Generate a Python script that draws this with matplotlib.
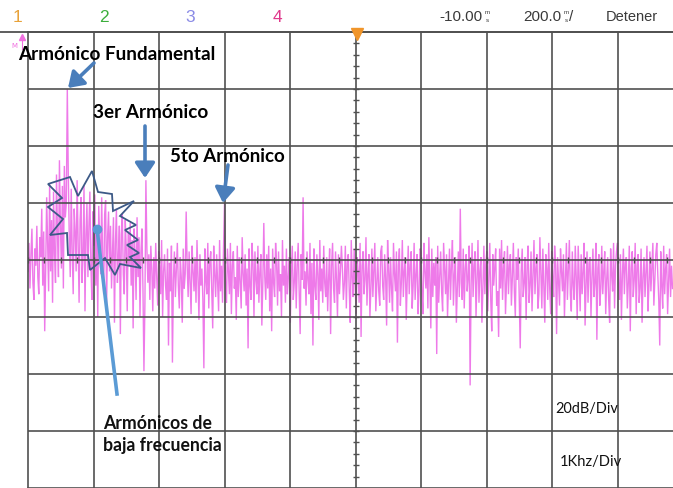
import numpy as np
import matplotlib
matplotlib.use("Agg")
import matplotlib.pyplot as plt
from matplotlib import font_manager
from matplotlib.patches import FancyArrowPatch, Polygon
from matplotlib.lines import Line2D

# ---------------- data ----------------
bin_khz = 0.015  # spacing of spectrum points, kHz
level_db = [
    -4, 6, -10, 2, 11, -8, -14, 4, -2, 12, -6, -12, 8, 1, 18, -9, 10, -25, -3, 22,
    5, -11, 27, -4, 14, -15, 24, 2, -8, 30, 9, -6, 35, 12, -3, 26, -10, 33, 15, 20,
    60, 30, 8, -6, 25, 3, -12, 18, 10, -4, 28, 6, -15, 14, 22, -8, 2, 26, -18, 9,
    20, -6, 12, 24, -2, -14, 17, 5, 23, -9, 11, -20, 19, 7, -5, 22, 0, -12, 16, 21,
    -16, 8, 17, -4, 12, -10, 3, 15, -22, 6, 18, -8, 1, 12, -26, 9, 16, -5, -12, 14,
    4, -18, 10, -2, 13, -9, 7, -24, 11, 2, -14, 15, -6, 8, -20, 3, 11, -10, -39, -15,
    28, 4, -8, 2, -14, 5, -3, -18, 1, -10, 6, -6, -16, 3, -2, -12, 7, -20, -4, 2,
    -9, -14, 4, -30, -1, -11, 5, -36, -7, 3, -13, -4, 6, -9, -17, 1, -6, -22, 4, -10,
    -5, 17, -2, -13, 3, -8, -19, 5, -4, -11, 1, -15, 7, -6, -21, 2, -9, -3, -14, -38,
    4, -7, -12, 6, -17, -1, 3, -10, -24, 5, -5, -13, 2, -8, -18, 7, -11, -2, -15, 4,
    20, -9, -15, 4, -4, -12, 6, -19, -2, 3, -10, -6, -21, 5, -13, 1, -8, -17, 8, -5,
    -11, 2, -16, -3, -31, 4, -9, -14, 6, -1, -20, 3, -7, -12, 5, -15, -4, 2, -23, -8,
    13, -6, -14, 2, -10, 5, -18, -3, -25, 4, -8, -13, 6, -1, -16, 3, -11, -5, -20, 7,
    -9, -2, -15, 4, -12, -6, 1, -22, -4, 5, -14, -8, 3, -17, -2, 6, -11, -26, 2, -7,
    22, -10, -4, -16, 3, -7, -12, 6, -19, -1, -30, 4, -9, -14, 2, -5, -21, 7, -11, -3,
    -15, 5, -8, -13, 1, -18, -6, 4, -26, -2, 6, -10, -15, 3, -7, -20, 2, -12, -4, 5,
    -3, -14, -8, 5, -17, -1, 2, -11, -22, 7, -6, -13, 4, -9, -19, 1, -4, -15, 6, -27,
    -2, 3, -12, -7, 8, -16, -5, 2, -20, -10, 4, -13, -3, 6, -18, -8, 1, -11, -16, 3,
    5, -9, -14, 2, -6, -23, 7, -3, -15, 1, -10, -18, 6, -5, -11, 3, -29, -2, 4, -16,
    -8, 7, -13, -4, 1, -21, -7, 5, -12, -2, 3, -17, -9, 6, -14, -5, 2, -19, -11, 4,
    3, -12, -19, 6, -4, -10, 2, -17, 8, -7, -24, 4, -13, -1, -9, 1, -33, 5, -15, -6,
    3, -11, -18, 6, -3, -12, 2, -20, -8, 4, -14, -2, 7, -16, -5, 1, -22, -9, 3, -13,
    18, -8, -14, 4, -17, -3, 2, -11, -6, 5, -44, -9, 6, -13, -2, 3, -20, -7, 7, -15,
    -4, 1, -22, -10, 5, -12, -1, 3, -18, -6, 6, -14, -25, 2, -9, -3, 4, -16, -11, -27,
    4, -10, 7, -14, -3, 3, -19, -8, 5, -12, -2, 2, -16, -6, 6, -11, -20, 1, -7, 4,
    -13, -31, -4, 4, -13, -8, 1, -21, -2, 5, -15, -9, 3, -18, -5, 7, -12, -3, 2, -17,
    -12, 8, -5, -17, 4, -9, -22, 2, -3, -14, 6, -10, -19, 3, -6, -13, 5, -2, -26, 1,
    -8, -16, 4, -4, -11, 2, -20, -7, 6, -14, -3, 7, -12, -18, 3, -9, -14, 5, -6, -21,
    5, -7, -18, 2, -12, -4, 6, -23, -9, 3, -15, -1, 1, -20, -6, 4, -13, -8, 6, -28,
    -3, 2, -16, -10, 5, -12, -4, 3, -19, -7, 1, -14, -22, 4, -5, -11, 6, -17, -2, 3,
    6, -9, -14, 2, -21, -5, 4, -12, -1, 1, -17, -8, 5, -25, -3, 3, -13, -7, 6, -19,
    -2, 2, -15, -10, 4, -22, -6, 1, -13, -4, 5, -18, -9, 3, -11, -2, 6, -16, -7, 2,
    6, -5, -14, -30, 3, -9, -17, 5, -12, -3, 2, -19, -7, 4, -13, -2, -10,
]
freq_khz = np.arange(len(level_db)) * bin_khz

channel_labels = ["1", "2", "3", "4"]
top_right_labels = ["-10.00", "200.0", "Detener"]
harmonic_labels = ["Armónico Fundamental", "3er Armónico", "5to Armónico"]
lowfreq_label = ["Armónicos de", "baja frecuencia"]
scale_labels = ["20dB/Div", "1Khz/Div"]

# ---------------- figure ----------------
W, H = 673, 489
fig = plt.figure(figsize=(W / 100, H / 100), dpi=100)
fig.patch.set_facecolor("white")

names = {f.name for f in font_manager.fontManager.ttflist}
narrow = "Liberation Sans Narrow" if "Liberation Sans Narrow" in names else "Liberation Sans"
calib = "Lato" if "Lato" in names else "Open Sans"


def fx(x):
    return x / W


def fy(y):
    return 1 - y / H


# plot area: left 28px, 10 div x 65.5px (cut at the right), top 33px, 8 div x 57px
left, top, divw, divh = 28, 33, 65.5, 57.0
ax = fig.add_axes([fx(left), fy(top + 8 * divh), 10 * divw / W, 8 * divh / H])
ax.set_xlim(0, 10)
ax.set_ylim(-80, 80)
ax.set_xticks([])
ax.set_yticks([])
gcol = "#505050"
for s in ax.spines.values():
    s.set_color(gcol)
    s.set_linewidth(1.2)
    s.set_zorder(4)

ax.plot(freq_khz, level_db, color="#ee7ae9", lw=1.0, zorder=2, solid_joinstyle="miter")

for xv in range(1, 10):
    ax.axvline(xv, color=gcol, lw=1.2, zorder=3)
for yv in range(-60, 80, 20):
    ax.axhline(yv, color=gcol, lw=1.2, zorder=3)

# minor ticks on centre cross
xt = np.arange(0, 10.01, 0.25)
ax.plot(xt, np.zeros_like(xt), ls="none", marker="|", ms=5, mew=1.0, color=gcol, zorder=3)
yt = np.arange(-80, 80.1, 4)
ax.plot(np.full_like(yt, 5.0), yt, ls="none", marker="_", ms=5, mew=1.0, color=gcol, zorder=3)

# top separator line and trigger marker
fig.add_artist(Line2D([0, 1], [fy(33), fy(33)], color=gcol, lw=1.3))
fig.add_artist(Line2D([fx(357)], [fy(35)], marker="v", ms=8, color="#f0952a", ls="none"))
fig.text(fx(14), fy(46), "M", color="#f070e0", fontsize=5, ha="center", va="center")
fig.add_artist(Line2D([fx(22), fx(22)], [fy(38), fy(50)], color="#f070e0", lw=0.8))
fig.add_artist(Line2D([fx(22)], [fy(38)], marker="^", ms=4, color="#f070e0", ls="none"))

renderer = fig.canvas.get_renderer()


def fit(text, x0, yc, w, base=10, ha="left", **kw):
    t = fig.text(fx(x0), fy(yc), text, ha=ha, va="center", fontsize=base, **kw)
    bb = t.get_window_extent(renderer)
    t.set_fontsize(base * w / bb.width)
    return t


# top bar
chan_cols = ["#e8a23a", "#3cae3c", "#8a8ae6", "#e0388c"]
for lab, x, c in zip(channel_labels, [18, 104, 190, 277], chan_cols):
    fig.text(fx(x), fy(17), lab, color=c, fontsize=12.5, family=narrow, ha="center", va="center")

tcol = "#3a3a3a"
fig.text(fx(482), fy(17), top_right_labels[0], color=tcol, fontsize=11, family=narrow, ha="right", va="center")
fig.text(fx(487), fy(13), "m", color=tcol, fontsize=4.5, family=narrow, ha="center", va="center")
fig.text(fx(487), fy(20), "s", color=tcol, fontsize=4.5, family=narrow, ha="center", va="center")
fig.text(fx(561), fy(17), top_right_labels[1], color=tcol, fontsize=11, family=narrow, ha="right", va="center")
fig.text(fx(566), fy(13), "m", color=tcol, fontsize=4.5, family=narrow, ha="center", va="center")
fig.text(fx(566), fy(20), "s", color=tcol, fontsize=4.5, family=narrow, ha="center", va="center")
fig.text(fx(569), fy(17), "/", color=tcol, fontsize=11, family=narrow, ha="left", va="center")
fig.text(fx(658), fy(17), top_right_labels[2], color=tcol, fontsize=10.5, family=narrow, ha="right", va="center")

# annotations
fit(harmonic_labels[0], 18, 55, 197, family=calib, weight="bold", color="black")
fit(harmonic_labels[1], 93, 113, 115, family=calib, weight="bold", color="black")
fit(harmonic_labels[2], 170, 157, 115, family=calib, weight="bold", color="black")
fit(lowfreq_label[0], 103, 424, 109, family=calib, weight="bold", color="#111111")
fit(lowfreq_label[1], 103, 446, 119, family=calib, weight="bold", color="#111111")
fit(scale_labels[0], 555, 409, 63, family=calib, color="#111111")
fit(scale_labels[1], 560, 462, 62, family=calib, color="#111111")

acol = "#4a7ebb"
for (x0, y0), (x1, y1) in [((94, 64), (68, 89)), ((145, 127), (145, 179)), ((228, 166), (223, 204))]:
    fig.add_artist(FancyArrowPatch((fx(x0), fy(y0)), (fx(x1), fy(y1)), transform=fig.transFigure,
                                   arrowstyle="-|>,head_length=6,head_width=4", color=acol,
                                   lw=2.6, shrinkA=0, shrinkB=0, mutation_scale=1.5))

star_px = [(48, 185), (70, 178), (78, 197), (92, 172), (98, 193), (112, 195), (113, 212),
           (134, 202), (120, 217), (136, 226), (125, 231), (138, 241), (127, 246), (139, 254),
           (130, 258), (141, 269), (120, 265), (115, 276), (105, 259), (90, 271), (88, 256),
           (68, 256), (67, 234), (50, 236), (63, 220), (48, 208), (62, 199)]
fig.add_artist(Polygon([(fx(x), fy(y)) for x, y in star_px], closed=True, fill=False,
                       edgecolor="#3d5a87", lw=1.3, transform=fig.transFigure))
fig.add_artist(Line2D([fx(97), fx(117)], [fy(230), fy(395)], color="#5b9bd5", lw=2.6))
fig.add_artist(Line2D([fx(97)], [fy(230)], marker="o", ms=6, color="#5b9bd5", ls="none"))

fig.savefig("out.png", dpi=100, facecolor="white")
